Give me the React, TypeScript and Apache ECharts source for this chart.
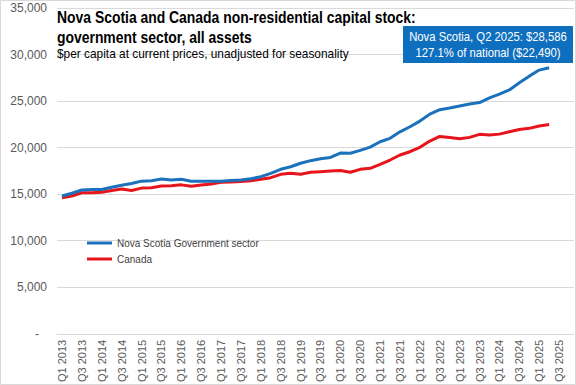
import React, { useEffect, useRef } from "react";
import * as echarts from "echarts";

const quarters: string[] = [
  "Q1 2013", "Q2 2013", "Q3 2013", "Q4 2013",
  "Q1 2014", "Q2 2014", "Q3 2014", "Q4 2014",
  "Q1 2015", "Q2 2015", "Q3 2015", "Q4 2015",
  "Q1 2016", "Q2 2016", "Q3 2016", "Q4 2016",
  "Q1 2017", "Q2 2017", "Q3 2017", "Q4 2017",
  "Q1 2018", "Q2 2018", "Q3 2018", "Q4 2018",
  "Q1 2019", "Q2 2019", "Q3 2019", "Q4 2019",
  "Q1 2020", "Q2 2020", "Q3 2020", "Q4 2020",
  "Q1 2021", "Q2 2021", "Q3 2021", "Q4 2021",
  "Q1 2022", "Q2 2022", "Q3 2022", "Q4 2022",
  "Q1 2023", "Q2 2023", "Q3 2023", "Q4 2023",
  "Q1 2024", "Q2 2024", "Q3 2024", "Q4 2024",
  "Q1 2025", "Q2 2025", "Q3 2025", "Q4 2025",
];

const novaScotia: (number | null)[] = [
  14800, 15100, 15450, 15500,
  15500, 15750, 15950, 16150,
  16400, 16450, 16620, 16530,
  16600, 16380, 16400, 16380,
  16400, 16480, 16530, 16650,
  16880, 17240, 17670, 17950,
  18320, 18600, 18810, 18950,
  19420, 19400, 19700, 20050,
  20630, 21000, 21700, 22240,
  22850, 23600, 24080, 24250,
  24480, 24680, 24840, 25350,
  25750, 26200, 26970, 27680,
  28330, 28586, null, null,
];

const canada: (number | null)[] = [
  14600, 14800, 15150, 15150,
  15200, 15400, 15550, 15400,
  15650, 15700, 15880, 15900,
  16000, 15850, 15980, 16100,
  16280, 16300, 16350, 16450,
  16600, 16770, 17130, 17240,
  17150, 17350, 17420, 17490,
  17550, 17350, 17670, 17780,
  18210, 18670, 19210, 19560,
  20030, 20710, 21200, 21080,
  20950, 21100, 21430, 21350,
  21450, 21700, 21950, 22070,
  22320, 22490, null, null,
];

const seriesNames = ["Nova Scotia Government sector", "Canada"];
const titleLines = [
  "Nova Scotia and Canada non-residential capital stock:",
  "government sector, all assets",
];
const subtitle = "$per capita at current prices, unadjusted for seasonality";

const fmt = (v: number) => v.toLocaleString("en-US");

export default function App() {
  const ref = useRef<HTMLDivElement>(null);

  useEffect(() => {
    if (!ref.current) return;
    const chart = echarts.init(ref.current, undefined, { renderer: "svg" });

    let last = 0;
    for (let i = 0; i < novaScotia.length; i++) if (novaScotia[i] != null) last = i;
    const nsLast = novaScotia[last] as number;
    const caLast = canada[last] as number;
    const pct = ((nsLast / caLast) * 100).toFixed(1);
    const boxLine1 = `Nova Scotia, ${quarters[last]}: $${fmt(nsLast)}`;
    const boxLine2 = `${pct}% of national ($${fmt(caLast)})`;

    const sans = "'Liberation Sans', Arial, sans-serif";

    chart.setOption({
      animation: false,
      backgroundColor: "#ffffff",
      grid: { left: 57, right: 2, top: 8, bottom: 51, containLabel: false },
      xAxis: {
        type: "category",
        data: quarters,
        boundaryGap: true,
        axisLine: { show: true, lineStyle: { color: "#d9d9d9", width: 1 } },
        axisTick: { show: false },
        axisLabel: {
          interval: 1,
          rotate: 90,
          margin: 6,
          fontSize: 11,
          color: "#595959",
          fontFamily: sans,
        },
        splitLine: { show: false },
      },
      yAxis: {
        type: "value",
        min: 0,
        max: 35000,
        interval: 5000,
        axisLine: { show: false },
        axisTick: { show: false },
        splitLine: { show: true, lineStyle: { color: "#d9d9d9", width: 1 } },
        axisLabel: {
          margin: 10,
          fontSize: 12,
          color: "#595959",
          fontFamily: sans,
          formatter: (v: number) => (v === 0 ? "{d|-}" : fmt(v)),
          rich: { d: { fontSize: 12, color: "#595959", padding: [0, 8, 0, 0] } },
        },
      },
      legend: {
        left: 82,
        top: 233,
        orient: "vertical",
        itemGap: 6,
        itemWidth: 25,
        itemHeight: 3,
        icon: "rect",
        textStyle: {
          fontSize: 10,
          color: "#404040",
          fontFamily: sans,
        },
        data: seriesNames,
      },
      series: [
        {
          name: seriesNames[0],
          type: "line",
          data: novaScotia,
          showSymbol: false,
          symbol: "none",
          color: "#1B71BB",
          lineStyle: { width: 3, color: "#1B71BB" },
          z: 3,
        },
        {
          name: seriesNames[1],
          type: "line",
          data: canada,
          showSymbol: false,
          symbol: "none",
          color: "#E8141C",
          lineStyle: { width: 3, color: "#E8141C" },
          z: 2,
        },
      ],
      graphic: [
        {
          type: "rect",
          shape: { x: 0.5, y: 0.5, width: 575, height: 384 },
          style: { fill: "none", stroke: "#d9d9d9", lineWidth: 1 },
          silent: true,
          z: 0,
        },
        {
          type: "text",
          x: 57,
          y: 9,
          scaleX: 0.87,
          style: {
            text: titleLines[0],
            fontSize: 16,
            fontWeight: "bold",
            fill: "#000000",
            fontFamily: sans,
          },
          z: 10,
        },
        {
          type: "text",
          x: 57,
          y: 29,
          scaleX: 0.87,
          style: {
            text: titleLines[1],
            fontSize: 16,
            fontWeight: "bold",
            fill: "#000000",
            fontFamily: sans,
          },
          z: 10,
        },
        {
          type: "text",
          x: 57,
          y: 47,
          scaleX: 0.95,
          style: {
            text: subtitle,
            fontSize: 12.5,
            fill: "#000000",
            fontFamily: sans,
          },
          z: 10,
        },
        {
          type: "rect",
          shape: { x: 403, y: 26, width: 170, height: 37 },
          style: { fill: "#0F6FBF" },
          z: 10,
        },
        {
          type: "text",
          x: 488,
          y: 37,
          scaleX: 0.87,
          style: {
            text: boxLine1,
            fontSize: 13,
            fill: "#ffffff",
            fontFamily: sans,
            align: "center",
            verticalAlign: "middle",
          },
          z: 11,
        },
        {
          type: "text",
          x: 488,
          y: 53,
          scaleX: 0.87,
          style: {
            text: boxLine2,
            fontSize: 13,
            fill: "#ffffff",
            fontFamily: sans,
            align: "center",
            verticalAlign: "middle",
          },
          z: 11,
        },
      ],
    });

    return () => chart.dispose();
  }, []);

  return (
    <div
      ref={ref}
      style={{ position: "absolute", left: 0, top: 0, width: 576, height: 385 }}
    />
  );
}
